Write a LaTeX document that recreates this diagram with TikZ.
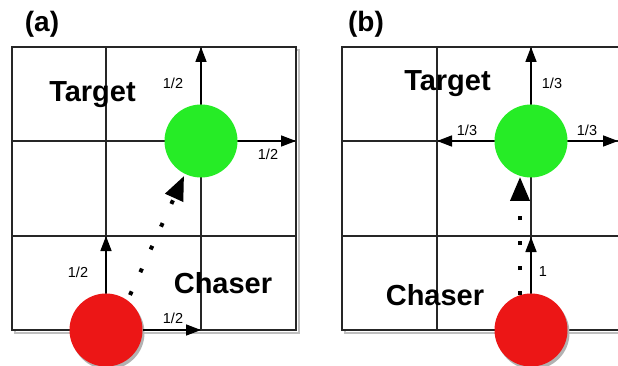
\documentclass[tikz,border=0pt]{standalone}
\usepackage{fontspec}
\setmainfont{Liberation Sans}
\usetikzlibrary{arrows.meta}
\definecolor{dotgreen}{RGB}{38,236,38}
\definecolor{dotred}{RGB}{236,22,22}
\tikzset{
  grid line/.style={line width=1.3pt, black!85},
  frame/.style={line width=1.8pt, black!85},
  shade frame/.style={line width=2.5pt, black!25},
  greendot/.style={circle, fill=dotgreen, minimum size=73pt, inner sep=0pt},
  reddot/.style={circle, fill=dotred, minimum size=73pt, inner sep=0pt},
  move/.style={line width=1.6pt, -{Triangle[length=15pt,width=11pt]}},
  chase/.style={line width=4pt, dash pattern=on 4pt off 21pt,
                -{Triangle[length=24pt,width=19pt]}},
  prob/.style={font=\fontsize{14.5}{15}\selectfont, inner sep=0pt},
  role/.style={font=\fontsize{29}{30}\selectfont\bfseries, inner sep=0pt, anchor=base},
  tag/.style={font=\fontsize{28}{30}\selectfont\bfseries, inner sep=0pt, anchor=base}
}
\begin{document}
\begin{tikzpicture}[x=1pt,y=-1pt]
\useasboundingbox (0,0) rectangle (618,366);
\clip (0,0) rectangle (618,366);

% ---------- panel (a) ----------
\node[tag] (labA) at (42,32) {(a)};
\draw[shade frame] (15,50) rectangle (299,333);
\fill[white] (12,47) rectangle (296,330);
\draw[grid line] (106,47) -- (106,330) (201,47) -- (201,330)
                 (12,141) -- (296,141) (12,236) -- (296,236);
\draw[frame] (12,47) rectangle (296,330);

\node[role] (tgtA) at (92.5,102) {Target};
\node[role] (chsA) at (223,293) {Chaser};

\fill[black!30] (108,333) circle (36.5pt);
\node[reddot] (cA) at (106,330) {};
\node[greendot] (gA) at (201,141) {};

\coordinate (gAup) at (201,47);
\coordinate (gAright) at (296,141);
\coordinate (cAup) at (106,236);
\coordinate (cAright) at (201,330);
\draw[move] (gA.north) -- (gAup);
\draw[move] (gA.east) -- (gAright);
\draw[move] (cA.north) -- (cAup);
\draw[move] (cA.east) -- (cAright);

\node[prob] (pA1) at (173,83) {1/2};
\node[prob] (pA2) at (268,154) {1/2};
\node[prob] (pA3) at (78,272) {1/2};
\node[prob] (pA4) at (173,318) {1/2};

\coordinate (dA0) at (130,295);
\coordinate (dA1) at (184,176);
\draw[chase] (dA0) -- (dA1);

% ---------- panel (b) ----------
\node[tag] (labB) at (366,32) {(b)};
\draw[shade frame] (345,50) rectangle (629,333);
\fill[white] (342,47) rectangle (626,330);
\draw[grid line] (437,47) -- (437,330) (531,47) -- (531,330)
                 (342,141) -- (626,141) (342,236) -- (626,236);
\draw[frame] (342,47) rectangle (626,330);

\node[role] (tgtB) at (447.5,91) {Target};
\node[role] (chsB) at (435,305) {Chaser};

\fill[black!30] (533,333) circle (36.5pt);
\node[reddot] (cB) at (531,330) {};
\node[greendot] (gB) at (531,141) {};

\coordinate (gBup) at (531,47);
\coordinate (gBleft) at (437,141);
\coordinate (gBright) at (618,141);
\coordinate (cBup) at (531,237);
\draw[move] (gB.north) -- (gBup);
\draw[move] (gB.west) -- (gBleft);
\draw[move] (gB.east) -- (gBright);
\draw[move] (cB.north) -- (cBup);

\node[prob] (pB1) at (552,83) {1/3};
\node[prob] (pB2) at (467,130) {1/3};
\node[prob] (pB3) at (587,130) {1/3};
\node[prob] (pB4) at (543,272) {1};

\coordinate (dB0) at (520,295);
\coordinate (dB1) at (520,177);
\draw[chase] (dB0) -- (dB1);
\end{tikzpicture}
\end{document}
